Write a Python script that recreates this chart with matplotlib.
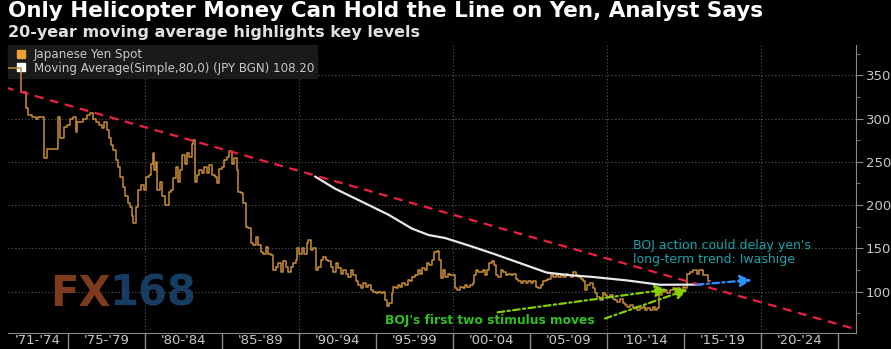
import matplotlib.pyplot as plt
from matplotlib.lines import Line2D

# Japanese yen spot (USDJPY), stepped
yen_years = [1971.1, 1971.95, 1972.25, 1972.42, 1972.64, 1972.9, 1973.07, 1973.46, 1973.62, 1974.33,
             1974.48, 1974.76, 1974.9, 1975.13, 1975.35, 1975.5, 1975.6, 1975.95, 1976.21, 1976.43,
             1976.6, 1976.8, 1977.0, 1977.19, 1977.35, 1977.51, 1977.65, 1977.79, 1977.95, 1978.1,
             1978.27, 1978.38, 1978.55, 1978.7, 1978.87, 1979.03, 1979.15, 1979.25, 1979.4, 1979.57,
             1979.75, 1979.96, 1980.05, 1980.26, 1980.4, 1980.5, 1980.58, 1980.71, 1980.8, 1980.97,
             1981.08, 1981.3, 1981.45, 1981.58, 1981.7, 1981.84, 1982.01, 1982.16, 1982.27, 1982.38,
             1982.6, 1982.75, 1982.88, 1983.03, 1983.14, 1983.25, 1983.36, 1983.53, 1983.68, 1983.83,
             1984.0, 1984.18, 1984.33, 1984.55, 1984.66, 1984.82, 1984.98, 1985.13, 1985.3, 1985.48,
             1985.63, 1985.78, 1985.95, 1986.06, 1986.21, 1986.38, 1986.56, 1986.71, 1986.86, 1987.03,
             1987.21, 1987.36, 1987.51, 1987.68, 1987.86, 1988.01, 1988.16, 1988.33, 1988.51, 1988.66,
             1988.81, 1988.99, 1989.16, 1989.31, 1989.46, 1989.64, 1989.81, 1989.89, 1990.0, 1990.17,
             1990.35, 1990.5, 1990.61, 1990.78, 1990.93, 1991.08, 1991.25, 1991.43, 1991.58, 1991.73,
             1991.9, 1992.08, 1992.23, 1992.38, 1992.55, 1992.73, 1992.88, 1993.03, 1993.2, 1993.38,
             1993.53, 1993.68, 1993.85, 1994.03, 1994.18, 1994.33, 1994.5, 1994.68, 1994.83, 1994.98,
             1995.15, 1995.32, 1995.47, 1995.58, 1995.69, 1995.84, 1996.02, 1996.12, 1996.28, 1996.41,
             1996.56, 1996.71, 1996.88, 1997.06, 1997.21, 1997.36, 1997.53, 1997.71, 1997.86, 1998.01,
             1998.18, 1998.29, 1998.44, 1998.62, 1998.79, 1998.94, 1999.1, 1999.2, 1999.35, 1999.5,
             1999.65, 1999.8, 2000.13, 2000.28, 2000.45, 2000.63, 2000.78, 2000.93, 2001.1, 2001.28,
             2001.36, 2001.49, 2001.64, 2001.93, 2002.08, 2002.23, 2002.36, 2002.51, 2002.66, 2002.79,
             2002.94, 2003.1, 2003.27, 2003.44, 2003.59, 2003.75, 2003.92, 2004.09, 2004.24, 2004.4,
             2004.57, 2004.74, 2004.89, 2005.05, 2005.21, 2005.39, 2005.54, 2005.69, 2005.86, 2006.04,
             2006.19, 2006.34, 2006.51, 2006.69, 2006.84, 2006.99, 2007.16, 2007.34, 2007.49, 2007.64,
             2007.81, 2007.99, 2008.14, 2008.3, 2008.46, 2008.57, 2008.72, 2008.9, 2009.07, 2009.22,
             2009.37, 2009.55, 2009.72, 2009.87, 2010.02, 2010.19, 2010.37, 2010.52, 2010.67, 2010.84,
             2011.02, 2011.17, 2011.32, 2011.49, 2011.67, 2011.82, 2011.97, 2012.14, 2012.32, 2012.47,
             2012.62, 2012.79, 2012.97, 2013.12, 2013.27, 2013.4, 2013.55, 2013.77, 2013.92, 2014.09,
             2014.27, 2014.42, 2014.57, 2014.74, 2014.92, 2015.06, 2015.17, 2015.39, 2015.6, 2015.82,
             2015.99, 2016.21, 2016.43, 2016.58, 2016.7]
yen_values = [358, 331, 312, 304, 302, 300, 302, 254, 265, 302,
              277, 290, 292, 300, 302, 285, 296, 300, 304, 306,
              300, 296, 292, 289, 296, 287, 277, 269, 264, 252,
              244, 233, 221, 210, 202, 198, 187, 179, 198, 217,
              223, 217, 233, 235, 248, 260, 240, 250, 217, 227,
              210, 200, 200, 215, 217, 231, 244, 227, 240, 258,
              248, 260, 256, 271, 275, 227, 235, 240, 237, 244,
              237, 246, 235, 233, 225, 242, 244, 252, 256, 262,
              248, 254, 240, 215, 214, 202, 175, 173, 156, 154,
              163, 154, 146, 144, 152, 144, 142, 125, 129, 133,
              123, 135, 129, 123, 129, 133, 137, 150, 144, 150,
              144, 156, 160, 148, 150, 125, 129, 137, 140, 137,
              135, 129, 123, 133, 127, 121, 125, 121, 117, 125,
              119, 112, 108, 104, 110, 106, 108, 102, 100, 98,
              100, 98, 100, 90, 83, 87, 98, 106, 104, 108,
              106, 110, 108, 114, 112, 117, 119, 125, 121, 127,
              125, 133, 131, 137, 146, 147, 137, 116, 125, 117,
              121, 119, 104, 102, 106, 104, 108, 106, 108, 110,
              119, 125, 123, 125, 119, 125, 133, 135, 131, 119,
              117, 125, 123, 119, 121, 119, 121, 115, 112, 110,
              112, 110, 112, 110, 112, 106, 104, 108, 112, 113.5,
              115, 119, 117, 119, 117, 119, 117, 121, 119, 117,
              123, 119, 117, 115, 112, 102, 108, 110, 104, 98,
              94, 90, 98, 96, 94, 96, 92, 90, 88.5, 92,
              86.6, 84.6, 82.7, 84.6, 80.8, 82.7, 78.9, 80.8, 82.7, 78.9,
              80.8, 78.9, 82.7, 78.9, 80.8, 96, 100, 102, 98, 102,
              104, 100, 104, 102, 106, 104, 121, 123, 125, 121,
              125, 119, 119, 112, 112]

# 80-period simple moving average
ma_years = [1991.04, 1992.34, 1994.07, 1995.8, 1997.32, 1998.4, 1999.48, 2000.91,
            2002.6, 2004.35, 2006.1, 2007.6, 2009.09, 2011.3, 2013.44, 2015.84]
ma_values = [233, 219, 204, 189, 173, 165.5, 162, 154,
             144, 133, 122, 119, 117, 113, 108, 108.2]

# long-term trend line
trend_years = [1970.9, 2026.17]
trend_values = [336, 56.6]

# projected continuation (blue arrow)
proj_years = [2015.84, 2019.4]
proj_values = [108.2, 113.5]

# BOJ stimulus arrows (start, end)
stim1_years = [2002.9, 2013.9]
stim1_values = [76.2, 102.6]
stim2_years = [2009.87, 2015.25]
stim2_values = [69, 102.6]

bin_edges = [1975, 1980, 1985, 1990, 1995, 2000, 2005, 2010, 2015, 2020, 2025]
bin_centers = [1973, 1977.5, 1982.5, 1987.5, 1992.5, 1997.5, 2002.5, 2007.5, 2012.5, 2017.5, 2022.5]
bin_labels = ["'71-'74", "'75-'79", "'80-'84", "'85-'89", "'90-'94", "'95-'99",
              "'00-'04", "'05-'09", "'10-'14", "'15-'19", "'20-'24"]
grid_years = [1980, 1990, 2000, 2010, 2020]
y_ticks = [100, 150, 200, 250, 300, 350]

BG = 'black'
AXC = '#8a8a8a'
TXT = '#c8c8c8'

fig = plt.figure(figsize=(8.91, 3.49), dpi=100, facecolor=BG)
ax = fig.add_axes([8/891, 16/349, 848/891, 288/349], facecolor=BG)

ax.set_xlim(1971.1, 2026.17)
ax.set_ylim(52.3, 384.9)

# grid
for gy in grid_years:
    ax.axvline(gy, color='#5a5a5a', lw=0.8, ls=(0, (1, 2)), zorder=1)
ax.set_yticks(y_ticks)
ax.set_yticks(range(75, 400, 25), minor=True)
ax.yaxis.grid(True, which='major', color='#5a5a5a', lw=0.8, ls=(0, (1, 2)), zorder=1)

ax.plot(yen_years, yen_values, drawstyle='steps-post', color='#c98d36', lw=1.1, zorder=3)
ax.plot(ma_years, ma_values, color='#e8e8e8', lw=1.6, zorder=4, solid_capstyle='round')
ax.plot(trend_years, trend_values, color='#ee1f45', lw=1.6, ls=(0, (4, 3)), zorder=5)

ax.annotate('', xy=(proj_years[1], proj_values[1]), xytext=(proj_years[0], proj_values[0]),
            arrowprops=dict(arrowstyle='-|>,head_length=0.7,head_width=0.35', color='#2f8fff',
                            lw=1.6, ls=(0, (3, 1.5, 1, 1.5)), shrinkA=0, shrinkB=0), zorder=6)
for sx, sv in [(stim1_years, stim1_values), (stim2_years, stim2_values)]:
    ax.annotate('', xy=(sx[1], sv[1]), xytext=(sx[0], sv[0]),
                arrowprops=dict(arrowstyle='-|>,head_length=0.7,head_width=0.35', color='#86d000',
                                lw=1.6, ls=(0, (3, 1.5, 1, 1.5)), shrinkA=0, shrinkB=0), zorder=6)

ax.text(1995.58, 66.2, "BOJ's first two stimulus moves", color='#2fc21f', fontsize=8.8,
        fontweight='bold', va='center', ha='left', zorder=7)
ax.text(2011.67, 145.3, "BOJ action could delay yen's\nlong-term trend: Iwashige", color='#17a3a8',
        fontsize=9, va='center', ha='left', linespacing=1.1, zorder=7)

# axes styling
for s in ['top', 'left']:
    ax.spines[s].set_visible(False)
ax.spines['bottom'].set_color(AXC)
ax.spines['right'].set_color(AXC)
ax.yaxis.tick_right()
ax.tick_params(axis='y', which='major', colors=AXC, labelcolor=TXT, labelsize=9.5, length=5, pad=2)
ax.tick_params(axis='y', which='minor', colors=AXC, length=3)

ax.set_xticks(bin_edges)
ax.set_xticklabels([''] * len(bin_edges))
ax.set_xticks(bin_centers, minor=True)
ax.set_xticklabels(bin_labels, minor=True)
ax.tick_params(axis='x', which='major', colors=AXC, length=16, width=1)
ax.tick_params(axis='x', which='minor', length=0, labelcolor=TXT, labelsize=9.5, pad=1)

handles = [Line2D([], [], marker='s', ls='none', color='#f0a030', markersize=6),
           Line2D([], [], marker='s', ls='none', color='white', markersize=6)]
leg = ax.legend(handles, ['Japanese Yen Spot', 'Moving Average(Simple,80,0) (JPY BGN) 108.20'],
                loc='upper left', bbox_to_anchor=(0.0, 1.0), fontsize=8.6, labelcolor=TXT,
                frameon=True, facecolor='#1a1a1a', edgecolor='#1a1a1a', framealpha=1,
                fancybox=False, handlelength=1.6, handletextpad=0.3, borderpad=0.25,
                labelspacing=0.05, borderaxespad=0)
leg.set_zorder(2)

# titles
fig.text(8/891, 1 - 1/349, 'Only Helicopter Money Can Hold the Line on Yen, Analyst Says',
         color='white', fontsize=15.5, fontweight='bold', va='top', ha='left')
fig.text(8/891, 1 - 25.5/349, '20-year moving average highlights key levels',
         color='#e0e0e0', fontsize=11.5, fontweight='bold', va='top', ha='left')

# watermark
fig.text(50/891, 1 - 294/349, 'FX', color='#7e3a1c', fontsize=30, fontweight='bold', va='center', ha='left')
fig.text(109/891, 1 - 294/349, '168', color='#163c62', fontsize=30, fontweight='bold', va='center', ha='left')

fig.savefig('out.png', dpi=100, facecolor=BG)
